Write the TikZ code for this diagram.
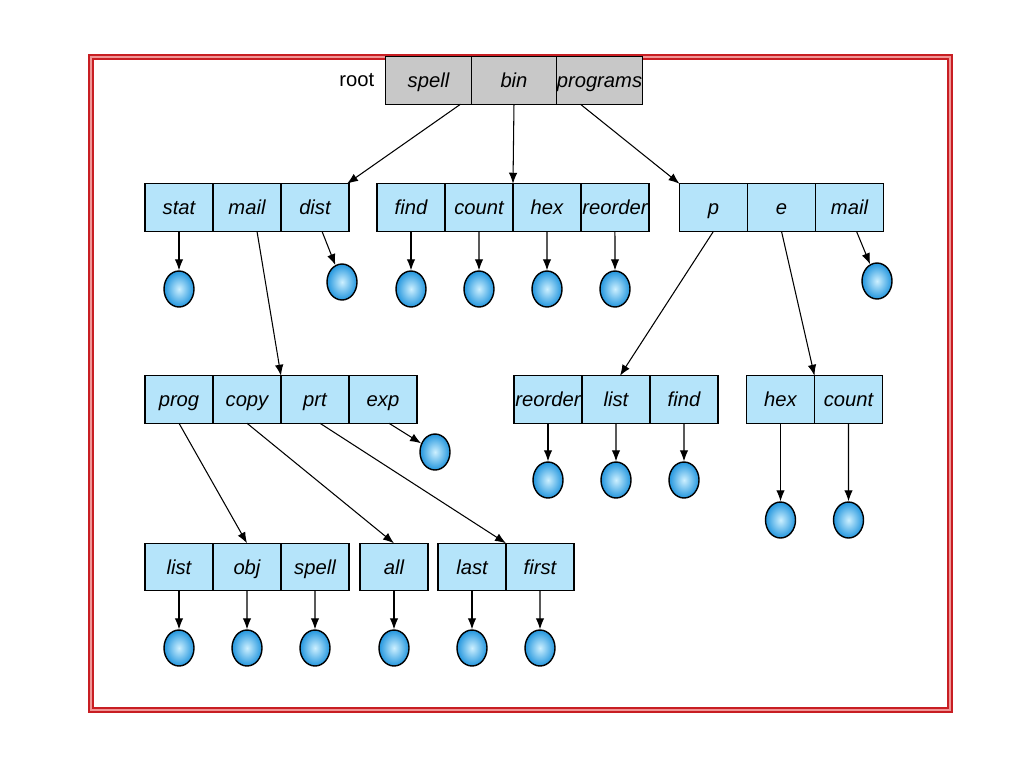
\documentclass[tikz,border=0pt]{standalone}
\usepackage{fontspec}
\setsansfont{Liberation Sans}
\usetikzlibrary{arrows.meta,positioning,shapes.geometric}
\definecolor{cellblue}{RGB}{181,228,250}
\definecolor{rootgray}{RGB}{200,200,200}
\definecolor{leafin}{RGB}{205,240,255}
\definecolor{leafout}{RGB}{35,150,222}
\definecolor{framered}{RGB}{200,30,35}
\definecolor{framepink}{RGB}{240,150,150}

\begin{document}
\begin{tikzpicture}[
  x=0.02cm, y=-0.02cm,
  >=Latex,
  cell/.style={draw=black, thick, fill=cellblue, outer sep=0pt, inner sep=0pt,
               minimum width=1.36cm, minimum height=0.95cm,
               text height=2.4ex, text depth=0.45ex,
               font=\fontsize{11.5}{13}\selectfont\sffamily\itshape},
  rootcell/.style={cell, fill=rootgray, minimum width=1.71cm},
  leaf/.style={ellipse, draw=black, thick, minimum width=0.6cm, minimum height=0.72cm,
               inner sep=0pt, shading=radial, inner color=leafin, outer color=leafout},
  arr/.style={-{Latex[length=2.2mm,width=1.7mm]}, semithick, draw=black}
]
  \useasboundingbox (0,0) rectangle (1024,768);
  % frame
  \draw[draw=framered, line width=1.1pt, double=framepink, double distance=1.2pt]
    (91,57) rectangle (950,710);

  % root directory
  \node[rootcell] (spell) at (428.5,80.5) {spell};
  \node[rootcell, right=0pt of spell] (bin) {bin};
  \node[rootcell, right=0pt of bin] (programs) {programs};
  \node[font=\fontsize{11.5}{13}\selectfont\sffamily, left=3pt of spell] (root) {root};

  % second level
  \node[cell] (stat) at (179,207.5) {stat};
  \node[cell, right=0pt of stat] (mail) {mail};
  \node[cell, right=0pt of mail] (dist) {dist};
  \node[cell] (find) at (411,207.5) {find};
  \node[cell, right=0pt of find] (count) {count};
  \node[cell, right=0pt of count] (hex) {hex};
  \node[cell, right=0pt of hex] (reorder) {reorder};
  \node[cell] (p) at (713.5,207.5) {p};
  \node[cell, right=0pt of p] (e) {e};
  \node[cell, right=0pt of e] (mailp) {mail};

  % third level
  \node[cell] (prog) at (179,399.5) {prog};
  \node[cell, right=0pt of prog] (copy) {copy};
  \node[cell, right=0pt of copy] (prt) {prt};
  \node[cell, right=0pt of prt] (exp) {exp};
  \node[cell] (reorderp) at (548,399.5) {reorder};
  \node[cell, right=0pt of reorderp] (listp) {list};
  \node[cell, right=0pt of listp] (findp) {find};
  \node[cell] (hexe) at (780.5,399.5) {hex};
  \node[cell, right=0pt of hexe] (counte) {count};

  % fourth level
  \node[cell] (list) at (179,567) {list};
  \node[cell, right=0pt of list] (obj) {obj};
  \node[cell, right=0pt of obj] (spellc) {spell};
  \node[cell] (all) at (394,567) {all};
  \node[cell] (last) at (472,567) {last};
  \node[cell, right=0pt of last] (first) {first};

  % files
  \node[leaf] (statf) at (179,289) {};
  \node[leaf] (distf) at (342,282) {};
  \node[leaf] (findf) at (411,289) {};
  \node[leaf] (countf) at (479,289) {};
  \node[leaf] (hexf) at (547,289) {};
  \node[leaf] (reorderf) at (615,289) {};
  \node[leaf] (mailpf) at (877,281) {};
  \node[leaf] (expf) at (435,452) {};
  \node[leaf] (reorderpf) at (548,480) {};
  \node[leaf] (listpf) at (616,480) {};
  \node[leaf] (findpf) at (684,480) {};
  \node[leaf] (hexef) at (780.5,520) {};
  \node[leaf] (countef) at (848.5,520) {};
  \node[leaf] (listf) at (179,648) {};
  \node[leaf] (objf) at (247,648) {};
  \node[leaf] (spellcf) at (315,648) {};
  \node[leaf] (allf) at (394,648) {};
  \node[leaf] (lastf) at (472,648) {};
  \node[leaf] (firstf) at (540,648) {};

  % directory links
  \draw[arr] ([xshift=0.64cm]spell.south) -- ([xshift=-0.04cm]dist.north east);
  \draw[arr] (bin.south) -- (count.north east);
  \draw[arr] ([xshift=-0.38cm]programs.south) -- (p.north west);
  \draw[arr] ([xshift=0.2cm]mail.south) -- (prt.north west);
  \draw[arr] (p.south) -- ([xshift=0.08cm]listp.north);
  \draw[arr] (e.south) -- (hexe.north east);
  \draw[arr] (prog.south) -- (obj.north);
  \draw[arr] (copy.south) -- (all.north);
  \draw[arr] ([xshift=0.1cm]prt.south) -- (last.north east);

  % file links
  \draw[arr] (stat.south) -- (statf.north);
  \draw[arr] ([xshift=0.14cm]dist.south) -- (distf);
  \draw[arr] (find.south) -- (findf.north);
  \draw[arr] (count.south) -- (countf.north);
  \draw[arr] (hex.south) -- (hexf.north);
  \draw[arr] (reorder.south) -- (reorderf.north);
  \draw[arr] ([xshift=0.14cm]mailp.south) -- (mailpf);
  \draw[arr] ([xshift=0.12cm]exp.south) -- (expf);
  \draw[arr] (reorderp.south) -- (reorderpf.north);
  \draw[arr] (listp.south) -- (listpf.north);
  \draw[arr] (findp.south) -- (findpf.north);
  \draw[arr] (hexe.south) -- (hexef.north);
  \draw[arr] (counte.south) -- (countef.north);
  \draw[arr] (list.south) -- (listf.north);
  \draw[arr] (obj.south) -- (objf.north);
  \draw[arr] (spellc.south) -- (spellcf.north);
  \draw[arr] (all.south) -- (allf.north);
  \draw[arr] (last.south) -- (lastf.north);
  \draw[arr] (first.south) -- (firstf.north);
\end{tikzpicture}
\end{document}
